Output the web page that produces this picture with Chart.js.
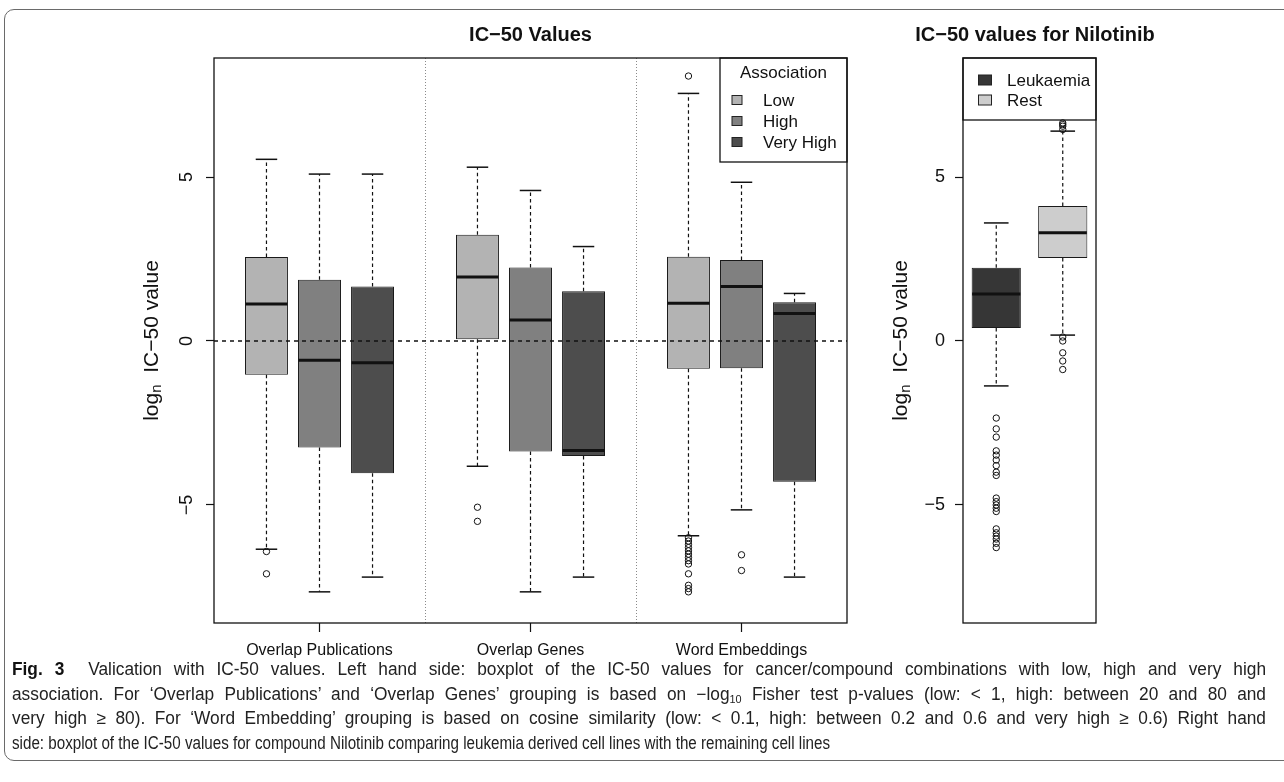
<!DOCTYPE html>
<html>
<head>
<meta charset="utf-8">
<script src="https://cdn.jsdelivr.net/npm/chart.js@4.4.0/dist/chart.umd.min.js"></script>
<style>
  body { margin: 0; background: #fff; width: 1284px; height: 782px; overflow: hidden; position: relative; }
  #frame { position: absolute; left: 4px; top: 9px; width: 1320px; height: 752px; border: 1px solid #6a6a6a; border-radius: 10px; box-sizing: border-box; }
  #left { position: absolute; left: 0; top: 0; }
  #right { position: absolute; left: 860px; top: 0; }
  #caption { position: absolute; left: 12px; top: 657px; font-family: 'Liberation Sans Narrow', 'Liberation Sans', Arial, sans-serif; font-size: 17.5px; line-height: 24.5px; color: #222; white-space: nowrap; }
  #caption div { transform-origin: 0 50%; }
  #caption div.j { text-align: justify; text-align-last: justify; }
  #caption b { font-weight: bold; color: #111; }
  #caption sub { font-size: 11px; line-height: 0; vertical-align: -3px; }
</style>
</head>
<body>
<div id="frame"></div>
<canvas id="left" width="860" height="680"></canvas>
<canvas id="right" width="424" height="680"></canvas>
<div id="caption">
  <div class="j"><b>Fig. 3</b>&nbsp; Valication with IC-50 values. Left hand side: boxplot of the IC-50 values for cancer/compound combinations with low, high and very high</div>
  <div class="j">association. For ‘Overlap Publications’ and ‘Overlap Genes’ grouping is based on −log<sub>10</sub> Fisher test p-values (low: &lt; 1, high: between 20 and 80 and</div>
  <div class="j">very high ≥ 80). For ‘Word Embedding’ grouping is based on cosine similarity (low: &lt; 0.1, high: between 0.2 and 0.6 and very high ≥ 0.6) Right hand</div>
  <div id="last"><span id="lastline">side: boxplot of the IC-50 values for compound Nilotinib comparing leukemia derived cell lines with the remaining cell lines</span></div>
</div>
<script>
// ---- data (log_n IC-50) ----
const groups = ['Overlap Publications', 'Overlap Genes', 'Word Embeddings'];
const levels = ['Low', 'High', 'Very High'];
const yTicks = [-5, 0, 5];

// Low association, one value per group
const lowLo = [-6.35, -3.82, -5.94];
const lowQ1 = [-1.03, 0.05, -0.85];
const lowMed = [1.13, 1.95, 1.15];
const lowQ3 = [2.56, 3.24, 2.57];
const lowHi = [5.54, 5.30, 7.55];
const lowOut = [[-6.42, -7.1], [-5.07, -5.5], [8.08, -6.0, -6.1, -6.2, -6.3, -6.4, -6.5, -6.6, -6.7, -6.8, -7.1, -7.45, -7.55, -7.65]];

// High association
const highLo = [-7.65, -7.65, -5.15];
const highQ1 = [-3.25, -3.37, -0.83];
const highMed = [-0.59, 0.64, 1.66];
const highQ3 = [1.87, 2.24, 2.47];
const highHi = [5.09, 4.59, 4.84];
const highOut = [[], [], [-6.52, -7.0]];

// Very high association
const vhighLo = [-7.2, -7.2, -7.2];
const vhighQ1 = [-4.03, -3.51, -4.29];
const vhighMed = [-0.66, -3.34, 0.84];
const vhighQ3 = [1.66, 1.52, 1.18];
const vhighHi = [5.09, 2.88, 1.45];
const vhighOut = [[], [], []];

// Nilotinib panel
const niloGroups = ['Leukaemia', 'Rest'];
const niloLo = [-1.37, 0.18];
const niloQ1 = [0.40, 2.53];
const niloMed = [1.43, 3.30];
const niloQ3 = [2.23, 4.12];
const niloHi = [3.60, 6.40];
const niloOut = [
  [-2.35, -2.68, -2.93, -3.35, -3.48, -3.63, -3.8, -4.0, -4.1, -4.79, -4.9, -5.0, -5.1, -5.2, -5.73, -5.85, -5.95, -6.04, -6.17, -6.3],
  [0.12, 0.0, -0.36, -0.61, -0.87, 6.45, 6.55, 6.6, 6.65]
];

const FONT = '"Liberation Sans", Arial, Helvetica, sans-serif';

function boxSet(label, color, lo, q1, med, q3, hi, out) {
  return {
    label: label,
    backgroundColor: color,
    borderColor: '#1a1a1a',
    borderWidth: 1,
    borderSkipped: false,
    data: q1.map((v, i) => [v, q3[i]]),
    lo: lo, med: med, hi: hi, out: out
  };
}

function line(ctx, x1, y1, x2, y2) {
  ctx.beginPath(); ctx.moveTo(x1, y1); ctx.lineTo(x2, y2); ctx.stroke();
}

/* whiskers, caps, medians and outliers on top of the floating bars */
const boxParts = {
  id: 'boxParts',
  afterDatasetsDraw(chart) {
    const ctx = chart.ctx, y = chart.scales.y;
    chart.data.datasets.forEach((ds, di) => {
      chart.getDatasetMeta(di).data.forEach((bar, i) => {
        const x = bar.x, half = bar.width / 2;
        const yTop = y.getPixelForValue(ds.data[i][1]);
        const yBot = y.getPixelForValue(ds.data[i][0]);
        const yHi = y.getPixelForValue(ds.hi[i]);
        const yLo = y.getPixelForValue(ds.lo[i]);
        ctx.save();
        ctx.strokeStyle = '#111';
        ctx.lineWidth = 1.2;
        ctx.setLineDash([3.5, 3]);
        line(ctx, x, yTop, x, yHi);
        line(ctx, x, yBot, x, yLo);
        ctx.setLineDash([]);
        ctx.lineWidth = 1.5;
        line(ctx, x - half / 2, yHi, x + half / 2, yHi);
        line(ctx, x - half / 2, yLo, x + half / 2, yLo);
        ctx.lineWidth = 3;
        const yMed = y.getPixelForValue(ds.med[i]);
        line(ctx, x - half + 0.5, yMed, x + half - 0.5, yMed);
        ctx.lineWidth = 1;
        ds.out[i].forEach(v => {
          ctx.beginPath();
          ctx.arc(x, y.getPixelForValue(v), 3.2, 0, Math.PI * 2);
          ctx.stroke();
        });
        ctx.restore();
      });
    });
  }
};

/* R style decoration: box, dividers, zero line, legend, titles */
const panelDecor = {
  id: 'panelDecor',
  beforeDatasetsDraw(chart, args, o) {
    const ctx = chart.ctx, a = chart.chartArea, x = chart.scales.x;
    if (o.dividers) {
      ctx.save();
      ctx.strokeStyle = '#8a8a8a';
      ctx.lineWidth = 1;
      ctx.setLineDash([1, 2]);
      for (let i = 0; i < chart.data.labels.length - 1; i++) {
        const px = Math.round((x.getPixelForValue(i) + x.getPixelForValue(i + 1)) / 2) + 0.5;
        line(ctx, px, a.top, px, a.bottom);
      }
      ctx.restore();
    }
  },
  afterDatasetsDraw(chart, args, o) {
    const ctx = chart.ctx, a = chart.chartArea, y = chart.scales.y;
    ctx.save();
    if (o.zeroLine) {
      ctx.strokeStyle = '#111';
      ctx.lineWidth = 1.3;
      ctx.setLineDash([4, 4]);
      const y0 = y.getPixelForValue(0);
      line(ctx, a.left, y0, a.right, y0);
      ctx.setLineDash([]);
    }
    // legend
    const lg = o.legend;
    const items = o.legendFromLabels
      ? chart.data.labels.map((l, i) => ({ text: l, color: chart.data.datasets[0].backgroundColor[i] }))
      : chart.data.datasets.map(ds => ({ text: ds.label, color: ds.backgroundColor }));
    const bx = a.right - lg.width;
    ctx.fillStyle = '#fff';
    ctx.fillRect(bx, a.top, lg.width, lg.height);
    ctx.strokeStyle = '#111';
    ctx.lineWidth = 1.3;
    ctx.strokeRect(bx, a.top, lg.width, lg.height);
    ctx.font = '17px ' + FONT;
    ctx.textBaseline = 'middle';
    ctx.fillStyle = '#111';
    if (lg.title) {
      ctx.textAlign = 'center';
      ctx.fillText(lg.title, bx + lg.width / 2, a.top + lg.titleY);
    }
    ctx.textAlign = 'left';
    items.forEach((it, i) => {
      const ry = a.top + lg.firstRow + i * lg.rowStep;
      ctx.fillStyle = it.color;
      ctx.fillRect(bx + lg.swatchX - lg.sw / 2, ry - lg.sh / 2, lg.sw, lg.sh);
      ctx.strokeStyle = '#222';
      ctx.lineWidth = 1;
      ctx.strokeRect(bx + lg.swatchX - lg.sw / 2, ry - lg.sh / 2, lg.sw, lg.sh);
      ctx.fillStyle = '#111';
      ctx.fillText(it.text, bx + lg.textX, ry + 1);
    });
    // plot box
    ctx.strokeStyle = '#111';
    ctx.lineWidth = 1.3;
    ctx.strokeRect(a.left, a.top, a.right - a.left, a.bottom - a.top);
    // title
    ctx.font = 'bold 20px ' + FONT;
    ctx.textAlign = 'center';
    ctx.fillStyle = '#111';
    ctx.fillText(o.title, (a.left + a.right) / 2 + o.titleDx, 35);
    // y axis title with subscript n
    const cx = a.left - 62, cy = (a.top + a.bottom) / 2;
    ctx.translate(cx, cy);
    ctx.rotate(-Math.PI / 2);
    const big = '21px ' + FONT, small = '15px ' + FONT;
    ctx.font = big; const w1 = ctx.measureText('log').width;
    ctx.font = small; const w2 = ctx.measureText('n').width;
    ctx.font = big; const rest = '  IC\u221250 value'; const w3 = ctx.measureText(rest).width;
    let u = -(w1 + w2 + w3) / 2;
    ctx.textAlign = 'left';
    ctx.textBaseline = 'middle';
    ctx.fillText('log', u, 0); u += w1;
    ctx.font = small; ctx.fillText('n', u, 5); u += w2;
    ctx.font = big; ctx.fillText(rest, u, 0);
    ctx.restore();
  }
};

function yAxis(width, rotated) {
  return {
    min: -8.6,
    max: 8.63,
    afterBuildTicks: axis => { axis.ticks = yTicks.map(v => ({ value: v })); },
    afterFit: scale => { scale.width = width; },
    border: { display: false },
    grid: { drawOnChartArea: false, drawTicks: true, tickLength: 8, tickColor: '#111', tickWidth: 1.2 },
    ticks: {
      font: { size: 18, family: FONT },
      color: '#111',
      padding: rotated ? 9 : 10,
      minRotation: rotated ? 90 : 0,
      maxRotation: rotated ? 90 : 0,
      crossAlign: rotated ? 'center' : 'near',
      callback: v => v < 0 ? '\u2212' + (-v) : String(v)
    }
  };
}

new Chart(document.getElementById('left'), {
  type: 'bar',
  data: {
    labels: groups,
    datasets: [
      boxSet(levels[0], '#b3b3b3', lowLo, lowQ1, lowMed, lowQ3, lowHi, lowOut),
      boxSet(levels[1], '#808080', highLo, highQ1, highMed, highQ3, highHi, highOut),
      boxSet(levels[2], '#4d4d4d', vhighLo, vhighQ1, vhighMed, vhighQ3, vhighHi, vhighOut)
    ]
  },
  options: {
    responsive: false,
    animation: false,
    events: [],
    categoryPercentage: 0.754,
    barPercentage: 0.81,
    layout: { padding: { left: 0, right: 13, top: 58, bottom: 0 } },
    plugins: {
      legend: { display: false },
      tooltip: { enabled: false },
      panelDecor: {
        title: 'IC\u221250 Values', titleDx: 0, zeroLine: true, dividers: true, legendFromLabels: false,
        legend: { width: 127, height: 104, title: 'Association', titleY: 15, firstRow: 42, rowStep: 21, swatchX: 17, textX: 43, sw: 10, sh: 9 }
      }
    },
    scales: {
      x: {
        afterFit: scale => { scale.height = 57; },
        border: { display: false },
        grid: { drawOnChartArea: false, offset: false, tickLength: 9, tickColor: '#111', tickWidth: 1.2 },
        ticks: { font: { size: 16, family: FONT }, color: '#111', padding: 9, maxRotation: 0, autoSkip: false }
      },
      y: yAxis(214, true)
    }
  },
  plugins: [panelDecor, boxParts]
});

new Chart(document.getElementById('right'), {
  type: 'bar',
  data: {
    labels: niloGroups,
    datasets: [{
      label: 'Nilotinib',
      backgroundColor: ['#363636', '#cdcdcd'],
      borderColor: '#1a1a1a',
      borderWidth: 1,
      borderSkipped: false,
      data: niloQ1.map((v, i) => [v, niloQ3[i]]),
      lo: niloLo, med: niloMed, hi: niloHi, out: niloOut
    }]
  },
  options: {
    responsive: false,
    animation: false,
    events: [],
    categoryPercentage: 0.74,
    barPercentage: 1,
    layout: { padding: { left: 0, right: 188, top: 58, bottom: 57 } },
    plugins: {
      legend: { display: false },
      tooltip: { enabled: false },
      panelDecor: {
        title: 'IC\u221250 values for Nilotinib', titleDx: 5.5, zeroLine: false, dividers: false, legendFromLabels: true,
        legend: { width: 133, height: 62, title: '', titleY: 0, firstRow: 22, rowStep: 20, swatchX: 22, textX: 44, sw: 13, sh: 10 }
      }
    },
    scales: {
      x: { display: false },
      y: yAxis(103, false)
    }
  },
  plugins: [panelDecor, boxParts]
});

// caption: last line sets the squeeze, justified lines get a bit of stretch plus word spacing
const k = 818 / document.getElementById('lastline').getBoundingClientRect().width;
document.getElementById('last').style.transform = 'scaleX(' + k + ')';
const kj = k * 1.14;
document.querySelectorAll('#caption div.j').forEach(d => {
  d.style.width = (1254 / kj) + 'px';
  d.style.transform = 'scaleX(' + kj + ')';
});
</script>
</body>
</html>
